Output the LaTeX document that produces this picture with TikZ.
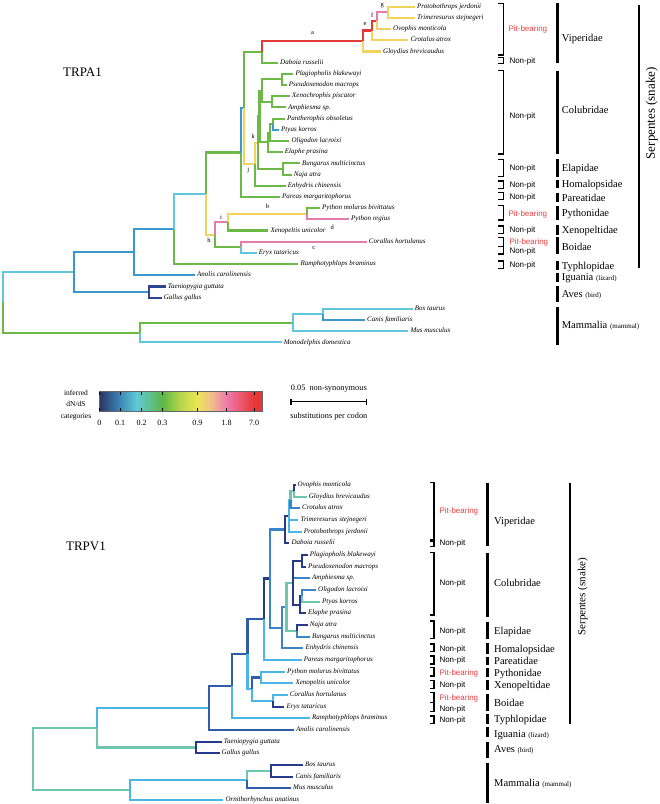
\documentclass[tikz,border=0pt]{standalone}
\usepackage{fontspec}
\setmainfont{Liberation Serif}
\setsansfont{Liberation Sans}
\usepackage{xcolor}
\usetikzlibrary{positioning, calc}

\definecolor{aNavy}{HTML}{2B4590}
\definecolor{aBlue}{HTML}{3A98CF}
\definecolor{aCyan}{HTML}{62C7DC}
\definecolor{aGreen}{HTML}{6DB947}
\definecolor{aYellow}{HTML}{F2D35C}
\definecolor{aPink}{HTML}{E27CA9}
\definecolor{aRed}{HTML}{E23A36}
\definecolor{vNavy}{HTML}{27398A}
\definecolor{vDark}{HTML}{2F5DA8}
\definecolor{vBlue}{HTML}{3A85C6}
\definecolor{vSky}{HTML}{4AB6E6}
\definecolor{vTeal}{HTML}{6EC6B0}
\definecolor{pitRed}{HTML}{E8403F}
\definecolor{barNavy}{HTML}{2A3466}
\definecolor{barBlue}{HTML}{3C88B6}
\definecolor{barCyan}{HTML}{5FCAD6}
\definecolor{barGreen}{HTML}{5DB748}
\definecolor{barLime}{HTML}{B5D64A}
\definecolor{barYellow}{HTML}{EBE753}
\definecolor{barPeach}{HTML}{F1BA8F}
\definecolor{barPink}{HTML}{EE7AAA}
\definecolor{barRed}{HTML}{E83737}

\newcommand{\smalltag}[1]{{\fontsize{7}{8}\selectfont #1}}

\tikzstyle{branch} = [line width=2.1pt]
\tikzstyle{taxon} = [anchor=west, inner sep=2pt, text height=4.6pt, text depth=1.4pt, font=\fontsize{7}{8}\selectfont\itshape]
\tikzstyle{clade} = [inner sep=1pt, text=black, font=\fontsize{6.5}{7}\selectfont]
\tikzstyle{title} = [font=\fontsize{13}{15}\selectfont]
\tikzstyle{family} = [anchor=west, inner sep=0pt, text height=7pt, text depth=0pt, font=\fontsize{10.5}{12}\selectfont]
\tikzstyle{nonpit} = [anchor=west, inner sep=0pt, text height=5.8pt, text depth=0pt, font=\sffamily\fontsize{8}{9}\selectfont]
\tikzstyle{pit} = [nonpit, text=pitRed]
\tikzstyle{famline} = [line width=2.6pt]
\tikzstyle{bracket} = [line width=1.1pt]
\tikzstyle{ticklab} = [font=\fontsize{8}{9}\selectfont]
\tikzstyle{scaletxt} = [font=\fontsize{8.3}{10}\selectfont]

\begin{document}
\begin{tikzpicture}[x=1pt, y=-1pt]
\useasboundingbox (0,0) rectangle (660,804);

%% TRPA1 tree
\node (trpa) [title] at (82.5,72) {TRPA1};

\node (a-protob) [taxon] at (415,6.7) {Protobothrops jerdonii};
\node (a-trimer) [taxon] at (415,17.9) {Trimeresurus stejnegeri};
\node (a-ovophis) [taxon] at (391,29.1) {Ovophis monticola};
\node (a-crotal) [taxon] at (408.3,40.3) {Crotalus atrox};
\node (a-gloyd) [taxon] at (381,51.5) {Gloydius brevicaudus};
\node (a-daboia) [taxon] at (278,62.7) {Daboia russelii};
\node (a-plagio) [taxon] at (293.3,73.8) {Plagiopholis blakewayi};
\node (a-pseudo) [taxon] at (286.7,85) {Pseudoxenodon macrops};
\node (a-xenoch) [taxon] at (290,96.2) {Xenochrophis piscator};
\node (a-amphi) [taxon] at (286,107.4) {Amphiesma sp.};
\node (a-panth) [taxon] at (285,118.6) {Pantherophis obsoletus};
\node (a-ptyas) [taxon] at (279,129.8) {Ptyas korros};
\node (a-oligo) [taxon] at (289.3,141) {Oligodon lacroixi};
\node (a-elaphe) [taxon] at (282.7,152.2) {Elaphe prasina};
\node (a-bung) [taxon] at (300,163.4) {Bungarus multicinctus};
\node (a-naja) [taxon] at (291.7,174.6) {Naja atra};
\node (a-enhy) [taxon] at (285.7,185.7) {Enhydris chinensis};
\node (a-pareas) [taxon] at (280,196.9) {Pareas margaritophorus};
\node (a-pymol) [taxon] at (320,208.1) {Python molurus bivittatus};
\node (a-pyreg) [taxon] at (349,219.3) {Python regius};
\node (a-xenop) [taxon] at (268.3,230.5) {Xenopeltis unicolor};
\node (a-coral) [taxon] at (366.7,241.7) {Corallus hortulanus};
\node (a-eryx) [taxon] at (256.7,252.9) {Eryx tataricus};
\node (a-ramph) [taxon] at (298.3,264.1) {Ramphotyphlops braminus};
\node (a-anolis) [taxon] at (195,275.3) {Anolis carolinensis};
\node (a-taen) [taxon] at (165.7,286.5) {Taeniopygia guttata};
\node (a-gallus) [taxon] at (161.7,297.6) {Gallus gallus};
\node (a-bos) [taxon] at (412.7,308.8) {Bos taurus};
\node (a-canis) [taxon] at (365,320) {Canis familiaris};
\node (a-mus) [taxon] at (408.3,331.2) {Mus musculus};
\node (a-monod) [taxon] at (281.7,342.4) {Monodelphis domestica};

\coordinate (a-root) at (3.3,302.35);
\coordinate (a-amn) at (74,272.1);
\coordinate (a-squ) at (134.3,252.1);
\coordinate (a-sna) at (174,228.9);
\coordinate (a-ale) at (206,193.6);
\coordinate (a-cae) at (240.7,152.5);
\coordinate (a-cbr) at (244,108);
\coordinate (a-vip) at (262,51.85);
\coordinate (a-ca) at (363.3,41);
\coordinate (a-ce) at (371.7,30.5);
\coordinate (a-cf) at (376.7,20.7);
\coordinate (a-cg) at (388.3,12.3);
\coordinate (a-cj) at (255.3,164.2);
\coordinate (a-ck) at (258,142.75);
\coordinate (a-colu) at (259.5,116.5);
\coordinate (a-col1) at (261.7,90.6);
\coordinate (a-plps) at (281.7,79.4);
\coordinate (a-xeam) at (272.3,101.8);
\coordinate (a-col2) at (268,142.4);
\coordinate (a-paol) at (270,132.6);
\coordinate (a-papt) at (272.7,124.2);
\coordinate (a-elap) at (282.7,169);
\coordinate (a-ch) at (215,234.7);
\coordinate (a-ci) at (227.7,222.1);
\coordinate (a-pyth) at (307.3,213.7);
\coordinate (a-boi) at (240.7,247.3);
\coordinate (a-aves) at (149,292.05);
\coordinate (a-mam) at (140,332.6);
\coordinate (a-plac) at (293.3,322.8);
\coordinate (a-bosc) at (322.7,314.4);

\draw [branch, aCyan] (a-root) |- (a-amn);
\draw [branch, aGreen] (a-root) |- (a-mam);
\draw [branch, aBlue] (a-amn) |- (a-squ);
\draw [branch, aBlue] (a-amn) |- (a-aves);
\draw [branch, aNavy] (a-aves) |- (a-taen);
\draw [branch, aNavy] (a-aves) |- (a-gallus);
\draw [branch, aBlue] (a-squ) |- (a-sna);
\draw [branch, aBlue] (a-squ) |- (a-anolis);
\draw [branch, aCyan] (a-sna) |- (a-ale);
\draw [branch, aGreen] (a-sna) |- (a-ramph);
\draw [branch, aGreen] (a-ale) |- (a-cae);
\draw [branch, aYellow] (a-ale) |- (a-ch);
\draw [branch, aBlue] (a-cae) |- (a-cbr);
\draw [branch, aGreen] (a-cae) |- (a-pareas);
\draw [branch, aGreen] (a-cbr) |- (a-vip);
\draw [branch, aYellow] (a-cbr) |- (a-cj);
\draw [branch, aRed] (a-vip) |- node (lab-a) [clade, pos=0.75, above=4.5pt] {a} (a-ca);
\draw [branch, aGreen] (a-vip) |- (a-daboia);
\draw [branch, aRed] (a-ca) |- (a-ce);
\draw [branch, aYellow] (a-ca) |- (a-gloyd);
\draw [branch, aRed] (a-ce) |- (a-cf);
\draw [branch, aYellow] (a-ce) |- (a-crotal);
\draw [branch, aPink] (a-cf) |- (a-cg);
\draw [branch, aYellow] (a-cf) |- (a-ovophis);
\draw [branch, aYellow] (a-cg) |- (a-protob);
\draw [branch, aYellow] (a-cg) |- (a-trimer);
\draw [branch, aYellow] (a-cj) |- (a-ck);
\draw [branch, aGreen] (a-cj) |- (a-enhy);
\draw [branch, aGreen] (a-ck) |- (a-colu);
\draw [branch, aGreen] (a-ck) |- (a-elap);
\draw [branch, aGreen] (a-colu) |- (a-col1);
\draw [branch, aGreen] (a-colu) |- (a-col2);
\draw [branch, aGreen] (a-col1) |- (a-plps);
\draw [branch, aGreen] (a-col1) |- (a-xeam);
\draw [branch, aGreen] (a-plps) |- (a-plagio);
\draw [branch, aGreen] (a-plps) |- (a-pseudo);
\draw [branch, aGreen] (a-xeam) |- (a-xenoch);
\draw [branch, aGreen] (a-xeam) |- (a-amphi);
\draw [branch, aGreen] (a-col2) |- (a-paol);
\draw [branch, aGreen] (a-col2) |- (a-elaphe);
\draw [branch, aGreen] (a-paol) |- (a-papt);
\draw [branch, aGreen] (a-paol) |- (a-oligo);
\draw [branch, aGreen] (a-papt) |- (a-panth);
\draw [branch, aBlue] (a-papt) |- (a-ptyas);
\draw [branch, aGreen] (a-elap) |- (a-bung);
\draw [branch, aGreen] (a-elap) |- (a-naja);
\draw [branch, aPink] (a-ch) |- (a-ci);
\draw [branch, aGreen] (a-ch) |- (a-boi);
\draw [branch, aYellow] (a-ci) |- node (lab-b) [clade, pos=0.75, above=3.5pt] {b} (a-pyth);
\draw [branch, aGreen] (a-ci) |- (a-xenop);
\draw [branch, aGreen] (a-pyth) |- (a-pymol);
\draw [branch, aPink] (a-pyth) |- node (lab-d) [clade, pos=0.8, below=3.5pt] {d} (a-pyreg);
\draw [branch, aPink] (a-boi) |- node (lab-c) [clade, pos=0.79, below=3pt] {c} (a-coral);
\draw [branch, aCyan] (a-boi) |- (a-eryx);
\draw [branch, aGreen] (a-mam) |- (a-plac);
\draw [branch, aCyan] (a-mam) |- (a-monod);
\draw [branch, aCyan] (a-plac) |- (a-bosc);
\draw [branch, aCyan] (a-plac) |- (a-mus);
\draw [branch, aCyan] (a-bosc) |- (a-bos);
\draw [branch, aBlue] (a-bosc) |- (a-canis);

\node (lab-e) [clade] at (365,24.3) {e};
\node (lab-f) [clade] at (372.3,15) {f};
\node (lab-g) [clade] at (382.3,6) {g};
\node (lab-h) [clade] at (209,240.7) {h};
\node (lab-i) [clade] at (221,217) {i};
\node (lab-j) [clade] at (248.3,170) {j};
\node (lab-k) [clade] at (253.3,136.7) {k};

% TRPA1 groups
\draw [bracket] (498.3,3.3) -| (503.3,55) -- (498.3,55);
\node (a-pit1) [pit] at (508.3,29) {Pit-bearing};
\draw [bracket] (498.3,57.3) -| (503.3,63.3) -- (498.3,63.3);
\node (a-non1) [nonpit] at (509.3,61) {Non-pit};
\draw [bracket] (498.3,70.7) -| (503.3,154) -- (498.3,154);
\node (a-non2) [nonpit] at (509.3,116) {Non-pit};
\draw [bracket] (498.3,159.3) -| (503.3,176.7) -- (498.3,176.7);
\node (a-non3) [nonpit] at (509.3,167.7) {Non-pit};
\draw [bracket] (498.3,181) -| (503.3,188.3) -- (498.3,188.3);
\node (a-non4) [nonpit] at (509.3,184.3) {Non-pit};
\draw [bracket] (498.3,192.7) -| (503.3,199.3) -- (498.3,199.3);
\node (a-non5) [nonpit] at (509.3,196.5) {Non-pit};
\draw [bracket] (498.3,205.7) -| (503.3,220) -- (498.3,220);
\node (a-pit2) [pit] at (508.3,213.3) {Pit-bearing};
\draw [bracket] (498.3,226) -| (503.3,233.3) -- (498.3,233.3);
\node (a-non6) [nonpit] at (509.3,230) {Non-pit};
\draw [bracket] (498.3,237.3) -| (503.3,246.7) -- (498.3,246.7);
\node (a-pit3) [pit] at (509.3,242) {Pit-bearing};
\draw [bracket] (498.3,246.7) -| (503.3,254) -- (498.3,254);
\node (a-non7) [nonpit] at (509.3,251) {Non-pit};
\draw [bracket] (498.3,261) -| (503.3,268.3) -- (498.3,268.3);
\node (a-non8) [nonpit] at (509.3,265) {Non-pit};

\draw [famline] (557.3,3.3) -- (557.3,63.3);
\node (a-fam1) [family] at (561.7,38.3) {Viperidae};
\draw [famline] (557.3,70.7) -- (557.3,154);
\node (a-fam2) [family] at (561.7,110) {Colubridae};
\draw [famline] (557.3,159.3) -- (557.3,176.7);
\node (a-fam3) [family] at (561.7,168.3) {Elapidae};
\draw [famline] (557.3,180) -- (557.3,188.3);
\node (a-fam4) [family] at (561.7,184.3) {Homalopsidae};
\draw [famline] (557.3,192.7) -- (557.3,201.7);
\node (a-fam5) [family] at (561.7,197.7) {Pareatidae};
\draw [famline] (557.3,205.7) -- (557.3,220);
\node (a-fam6) [family] at (561.7,213.3) {Pythonidae};
\draw [famline] (557.3,225) -- (557.3,235);
\node (a-fam7) [family] at (561.7,230) {Xenopeltidae};
\draw [famline] (557.3,237.3) -- (557.3,254);
\node (a-fam8) [family] at (561.7,246.7) {Boidae};
\draw [famline] (557.3,261) -- (557.3,270);
\node (a-fam9) [family] at (561.7,265.7) {Typhlopidae};
\draw [famline] (557.3,273.3) -- (557.3,281.7);
\node (a-fam10) [family] at (561.7,277.3) {Iguania \smalltag{(lizard)}};
\draw [famline] (557.3,285.7) -- (557.3,301.7);
\node (a-fam11) [family] at (561.7,294.3) {Aves \smalltag{(bird)}};
\draw [famline] (557.3,307.3) -- (557.3,345);
\node (a-fam12) [family] at (561.7,325) {Mammalia \smalltag{(mammal)}};
\draw [famline] (639,5) -- (639,268.3);
\node (a-serp) [rotate=90, font=\fontsize{13}{15}\selectfont] at (651.7,113.3) {Serpentes (snake)};

%% legend
\node (catlab) [align=center, font=\fontsize{7.5}{11.7}\selectfont] at (76,405) {inferred\\dN/dS\\categories};
\coordinate (bar-l) at (99.3,391.7);
\coordinate (bar-r) at (262.7,411);
\foreach \xa/\xb/\ca/\cb in {99.3/120.3/barNavy/barBlue, 120/137/barBlue/barCyan, 136.7/162.6/barCyan/barGreen, 162.3/180.3/barGreen/barLime, 180/197.6/barLime/barYellow, 197.3/212.3/barYellow/barPeach, 212/227/barPeach/barPink, 226.7/254.3/barPink/barRed, 254/262.7/barRed/barRed}
  \shade [left color=\ca, right color=\cb] (\xa,391.7) rectangle (\xb,411);
\draw [black!60, line width=0.5pt] (bar-l) rectangle (bar-r);
\foreach \x/\lab [count=\n] in {99.3/0, 120/0.1, 141.7/0.2, 162.3/0.3, 197.3/0.9, 226.7/1.8, 254/7.0} {
  \draw [line width=0.6pt] (\x,391.7) -- (\x,395.2) (\x,407.5) -- (\x,411);
  \node (tick\n) [ticklab] at (\x,422.7) {\lab};
}

\node (sbtop) [scaletxt] at (328.8,388.3) {0.05\enspace non-synonymous};
\node (sbbot) [scaletxt] at (328.8,416) {substitutions per codon};
\coordinate (sb-l) at (291,401.7);
\coordinate (sb-r) at (366.7,401.7);
\draw [line width=1.1pt] (sb-l) -- (sb-r);
\draw [line width=1.1pt] ($(sb-l)+(0,-3.2)$) -- ($(sb-l)+(0,3.2)$);
\draw [line width=1.1pt] ($(sb-r)+(0,-3.2)$) -- ($(sb-r)+(0,3.2)$);

%% TRPV1 tree
\node (trpv) [title] at (86,546.7) {TRPV1};

\node (v-ovophis) [taxon] at (295.5,485) {Ovophis monticola};
\node (v-gloyd) [taxon] at (306.7,496.7) {Gloydius brevicaudus};
\node (v-crotal) [taxon] at (300,508.3) {Crotalus atrox};
\node (v-trimer) [taxon] at (298.3,520) {Trimeresurus stejnegeri};
\node (v-protob) [taxon] at (301.7,531.7) {Protobothrops jerdonii};
\node (v-daboia) [taxon] at (289.3,543.3) {Daboia russelii};
\node (v-plagio) [taxon] at (307.7,555) {Plagiopholis blakewayi};
\node (v-pseudo) [taxon] at (306,566.7) {Pseudoxenodon macrops};
\node (v-amphi) [taxon] at (310,578.3) {Amphiesma sp.};
\node (v-oligo) [taxon] at (316,590) {Oligodon lacroixi};
\node (v-ptyas) [taxon] at (320,601.7) {Ptyas korros};
\node (v-elaphe) [taxon] at (306,613.3) {Elaphe prasina};
\node (v-naja) [taxon] at (307.7,625) {Naja atra};
\node (v-bung) [taxon] at (310,636.7) {Bungarus multicinctus};
\node (v-enhy) [taxon] at (303.3,648.3) {Enhydris chinensis};
\node (v-pareas) [taxon] at (301.7,660) {Pareas margaritophorus};
\node (v-pymol) [taxon] at (285,671.7) {Python molurus bivittatus};
\node (v-xenop) [taxon] at (293.3,683.3) {Xenopeltis unicolor};
\node (v-coral) [taxon] at (287.7,695) {Corallus hortulanus};
\node (v-eryx) [taxon] at (284.3,706.7) {Eryx tataricus};
\node (v-ramph) [taxon] at (310,718.3) {Ramphotyphlops braminus};
\node (v-anolis) [taxon] at (294,730) {Anolis carolinensis};
\node (v-taen) [taxon] at (221.7,741.7) {Taeniopygia guttata};
\node (v-gallus) [taxon] at (219.5,753.3) {Gallus gallus};
\node (v-bos) [taxon] at (303,765) {Bos taurus};
\node (v-canis) [taxon] at (293.3,776.7) {Canis familiaris};
\node (v-mus) [taxon] at (291,788.3) {Mus musculus};
\node (v-ornith) [taxon] at (223.3,800) {Ornithorhynchus anatinus};

\coordinate (v-root) at (33.3,758.8);
\coordinate (v-sau) at (97.3,727.8);
\coordinate (v-aves) at (196,747.5);
\coordinate (v-squ) at (209,708.1);
\coordinate (v-sna) at (232.3,686.25);
\coordinate (v-ale) at (247.5,654.2);
\coordinate (v-cae) at (264.3,619.25);
\coordinate (v-cbr) at (270,578.5);
\coordinate (v-vip) at (285,529.5);
\coordinate (v-crot) at (289.3,515.65);
\coordinate (v-ogc) at (290.5,499.6);
\coordinate (v-og) at (294,490.85);
\coordinate (v-ceh) at (281.7,627.55);
\coordinate (v-ce) at (286.5,606.8);
\coordinate (v-colu) at (292.7,582.7);
\coordinate (v-plps) at (301.7,560.85);
\coordinate (v-olpt) at (301.7,595.85);
\coordinate (v-olel) at (300,604.6);
\coordinate (v-elap) at (296.7,630.85);
\coordinate (v-hen) at (251.7,689.2);
\coordinate (v-pyxe) at (261,677.5);
\coordinate (v-boi) at (272.7,700.85);
\coordinate (v-mam) at (130,789.8);
\coordinate (v-plac) at (246.7,779.6);
\coordinate (v-bosc) at (270.7,770.85);

\draw [branch, vTeal] (v-root) |- (v-sau);
\draw [branch, vTeal] (v-root) |- (v-mam);
\draw [branch, vSky] (v-sau) |- (v-squ);
\draw [branch, vTeal] (v-sau) |- (v-aves);
\draw [branch, vNavy] (v-aves) |- (v-taen);
\draw [branch, vNavy] (v-aves) |- (v-gallus);
\draw [branch, vDark] (v-squ) |- (v-sna);
\draw [branch, vDark] (v-squ) |- (v-anolis);
\draw [branch, vDark] (v-sna) |- (v-ale);
\draw [branch, vSky] (v-sna) |- (v-ramph);
\draw [branch, vDark] (v-ale) |- (v-cae);
\draw [branch, vSky] (v-ale) |- (v-hen);
\draw [branch, vNavy] (v-cae) |- (v-cbr);
\draw [branch, vSky] (v-cae) |- (v-pareas);
\draw [branch, vBlue] (v-cbr) |- (v-vip);
\draw [branch, vBlue] (v-cbr) |- (v-ceh);
\draw [branch, vNavy] (v-vip) |- (v-crot);
\draw [branch, vNavy] (v-vip) |- (v-daboia);
\draw [branch, vSky] (v-crot) |- (v-ogc);
\draw [branch, vSky] (v-crot) |- (v-trimer);
\draw [branch, vSky] (v-crot) |- (v-protob);
\draw [branch, vTeal] (v-ogc) |- (v-og);
\draw [branch, vBlue] (v-ogc) |- (v-crotal);
\draw [branch, vNavy] (v-og) |- (v-ovophis);
\draw [branch, vTeal] (v-og) |- (v-gloyd);
\draw [branch, vBlue] (v-ceh) |- (v-ce);
\draw [branch, vBlue] (v-ceh) |- (v-enhy);
\draw [branch, vTeal] (v-ce) |- (v-colu);
\draw [branch, vTeal] (v-ce) |- (v-elap);
\draw [branch, vNavy] (v-elap) |- (v-naja);
\draw [branch, vBlue] (v-elap) |- (v-bung);
\draw [branch, vBlue] (v-colu) |- (v-amphi);
\draw [branch, vNavy] (v-colu) |- (v-plps);
\draw [branch, vNavy] (v-colu) |- (v-olel);
\draw [branch, vNavy] (v-plps) |- (v-plagio);
\draw [branch, vNavy] (v-plps) |- (v-pseudo);
\draw [branch, vNavy] (v-olel) |- (v-olpt);
\draw [branch, vNavy] (v-olel) |- (v-elaphe);
\draw [branch, vBlue] (v-olpt) |- (v-oligo);
\draw [branch, vTeal] (v-olpt) |- (v-ptyas);
\draw [branch, vDark] (v-hen) |- (v-pyxe);
\draw [branch, vSky] (v-hen) |- (v-boi);
\draw [branch, vSky] (v-pyxe) |- (v-pymol);
\draw [branch, vSky] (v-pyxe) |- (v-xenop);
\draw [branch, vSky] (v-boi) |- (v-coral);
\draw [branch, vNavy] (v-boi) |- (v-eryx);
\draw [branch, vSky] (v-mam) |- (v-plac);
\draw [branch, vSky] (v-mam) |- (v-ornith);
\draw [branch, vTeal] (v-plac) |- (v-bosc);
\draw [branch, vDark] (v-plac) |- (v-mus);
\draw [branch, vNavy] (v-bosc) |- (v-bos);
\draw [branch, vNavy] (v-bosc) |- (v-canis);

% TRPV1 groups
\draw [bracket] (429.5,482.7) -| (434,540) -- (429.5,540);
\node (v-pit1) [pit] at (439.3,510.7) {Pit-bearing};
\draw [bracket] (429.5,541.5) -| (434,546.5) -- (429.5,546.5);
\node (v-non1) [nonpit] at (439.3,543) {Non-pit};
\draw [bracket] (429.5,552.7) -| (434,615) -- (429.5,615);
\node (v-non2) [nonpit] at (439.3,582.7) {Non-pit};
\draw [bracket] (429.5,621) -| (434,638.3) -- (429.5,638.3);
\node (v-non3) [nonpit] at (439.3,630.7) {Non-pit};
\draw [bracket] (429.5,644) -| (434,651.7) -- (429.5,651.7);
\node (v-non4) [nonpit] at (439.3,648.3) {Non-pit};
\draw [bracket] (429.5,656) -| (434,664) -- (429.5,664);
\node (v-non5) [nonpit] at (439.3,660) {Non-pit};
\draw [bracket] (429.5,667.7) -| (434,676) -- (429.5,676);
\node (v-pit2) [pit] at (439.3,672.3) {Pit-bearing};
\draw [bracket] (429.5,680.7) -| (434,688.3) -- (429.5,688.3);
\node (v-non6) [nonpit] at (439.3,685) {Non-pit};
\draw [bracket] (429.5,692.7) -| (434,702.7) -- (429.5,702.7);
\node (v-pit3) [pit] at (439.3,697.7) {Pit-bearing};
\draw [bracket] (429.5,702.7) -| (434,711.7) -- (429.5,711.7);
\node (v-non7) [nonpit] at (439.3,708.3) {Non-pit};
\draw [bracket] (429.5,716) -| (434,723.3) -- (429.5,723.3);
\node (v-non8) [nonpit] at (439.3,719.3) {Non-pit};

\draw [famline] (487.3,482.7) -- (487.3,546);
\node (v-fam1) [family] at (494,520.7) {Viperidae};
\draw [famline] (487.3,552.7) -- (487.3,617.3);
\node (v-fam2) [family] at (494,583.3) {Colubridae};
\draw [famline] (487.3,621.7) -- (487.3,639.3);
\node (v-fam3) [family] at (494,631) {Elapidae};
\draw [famline] (487.3,642.7) -- (487.3,654);
\node (v-fam4) [family] at (494,649) {Homalopsidae};
\draw [famline] (487.3,656.7) -- (487.3,665);
\node (v-fam5) [family] at (494,660.7) {Pareatidae};
\draw [famline] (487.3,668.3) -- (487.3,677.3);
\node (v-fam6) [family] at (494,672.7) {Pythonidae};
\draw [famline] (487.3,680) -- (487.3,690);
\node (v-fam7) [family] at (494,685) {Xenopeltidae};
\draw [famline] (487.3,694) -- (487.3,710.7);
\node (v-fam8) [family] at (494,702.7) {Boidae};
\draw [famline] (487.3,714.3) -- (487.3,724);
\node (v-fam9) [family] at (494,719.3) {Typhlopidae};
\draw [famline] (487.3,726.7) -- (487.3,736.7);
\node (v-fam10) [family] at (494,734) {Iguania \smalltag{(lizard)}};
\draw [famline] (487.3,741.7) -- (487.3,758.3);
\node (v-fam11) [family] at (494,749.3) {Aves \smalltag{(bird)}};
\draw [famline] (487.3,763.3) -- (487.3,803.3);
\node (v-fam12) [family] at (494,783.3) {Mammalia \smalltag{(mammal)}};
\draw [famline] (570,482.7) -- (570,724);
\node (v-serp) [rotate=90, font=\fontsize{11}{13}\selectfont] at (582.7,596.7) {Serpentes (snake)};
\end{tikzpicture}
\end{document}
